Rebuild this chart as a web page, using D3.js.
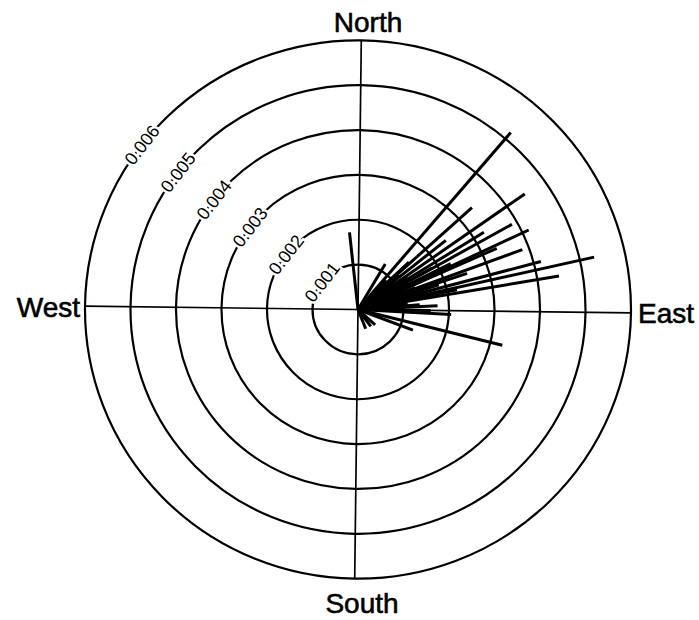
<!DOCTYPE html>
<html><head><meta charset="utf-8">
<script src="https://cdn.jsdelivr.net/npm/d3@7"></script>
<style>body{margin:0;background:#fff}</style>
</head><body>
<svg id="chart" width="699" height="620"></svg>
<script>
// ring values and labels
const ringValues = [0.001, 0.002, 0.003, 0.004, 0.005, 0.006];
const ringLabels = ["0.001", "0.002", "0.003", "0.004", "0.005", "0.006"];
const directionLabels = ["North", "East", "South", "West"];
// rays: bearing (deg, clockwise from North) and magnitude
const rayBearings = [39.7, 54.2, 47.1, 57.4, 60.0, 64.0, 65.2, 69.0, 74.4, 76.6, 79.7, 29.8, 353.1, 103.4, 110.1, 92.4, 84.7, 157.8, 142.5, 131.7, 50.7, 62.6, 70.7, 59.7, 72.1, 77.9, 64.9, 46.0, 48.8, 78.9, 76.5, 90.1, 55.0, 68.0, 82.0, 86.5, 43.0, 52.5];
const rayValues   = [0.00518, 0.00448, 0.00338, 0.00326, 0.00388, 0.00415, 0.00334, 0.00385, 0.00416, 0.00532, 0.00448, 0.00118, 0.00173, 0.00327, 0.00129, 0.00205, 0.00136, 0.00046, 0.00047, 0.00051, 0.00247, 0.00228, 0.00253, 0.00187, 0.00186, 0.00222, 0.00159, 0.00154, 0.00119, 0.00159, 0.00099, 0.00160, 0.00130, 0.00135, 0.00110, 0.00175, 0.00090, 0.00095];
const labelBearing = 307;

const cx = 358, cy = 309.5, R = 273, ySquash = 0.986, tilt = 0.7;
const rScale = d3.scaleLinear().domain([0, 0.006]).range([0, R]);
const ang = d3.scaleLinear().domain([0, 360]).range([0, 2 * Math.PI]);
const font = "'Liberation Sans', Arial, sans-serif";

const svg = d3.select("#chart");
svg.append("rect").attr("width", 699).attr("height", 620).attr("fill", "#fff");
const g = svg.append("g").attr("transform", `translate(${cx},${cy}) rotate(${tilt}) scale(1,${ySquash})`);

// rings
g.selectAll("circle.ring").data(ringValues).join("circle")
  .attr("class", "ring").attr("r", d => rScale(d))
  .attr("fill", "none").attr("stroke", "#000").attr("stroke-width", 2.2);

// axes
const outer = rScale(0.006);
g.append("line").attr("x1", -outer).attr("x2", outer).attr("y1", 0).attr("y2", 0)
  .attr("stroke", "#000").attr("stroke-width", 1.7);
g.append("line").attr("x1", 0).attr("x2", 0).attr("y1", -outer).attr("y2", outer)
  .attr("stroke", "#000").attr("stroke-width", 1.7);

// rays
const rays = rayBearings.map((b, i) => ({b, v: rayValues[i]}));
g.selectAll("line.ray").data(rays).join("line")
  .attr("class", "ray")
  .attr("x1", 0).attr("y1", 0)
  .attr("x2", d => rScale(d.v) * Math.sin(ang(d.b)))
  .attr("y2", d => -rScale(d.v) * Math.cos(ang(d.b)))
  .attr("stroke", "#000").attr("stroke-width", 3);

// ring labels
g.selectAll("text.rl").data(ringValues).join("text")
  .attr("class", "rl")
  .attr("transform", (d) => {
    const x = rScale(d) * Math.sin(ang(labelBearing));
    const y = -rScale(d) * Math.cos(ang(labelBearing));
    return `translate(${x},${y}) rotate(${labelBearing - 360})`;
  })
  .attr("text-anchor", "middle").attr("dy", "0.35em")
  .attr("font-family", font).attr("font-size", 18)
  .attr("stroke", "#fff").attr("stroke-width", 5).attr("paint-order", "stroke")
  .attr("fill", "#000")
  .text((d, i) => ringLabels[i]);

// cardinal labels
const ry = R * ySquash;
const cardPos = [
  {x: cx + 10, y: cy - ry - 8, anchor: "middle"},
  {x: cx + R + 7, y: cy + 13.5, anchor: "start"},
  {x: cx + 4, y: cy + ry + 34, anchor: "middle"},
  {x: cx - R - 5, y: cy + 7.5, anchor: "end"}
];
svg.selectAll("text.card").data(directionLabels).join("text")
  .attr("class", "card")
  .attr("x", (d, i) => cardPos[i].x).attr("y", (d, i) => cardPos[i].y)
  .attr("text-anchor", (d, i) => cardPos[i].anchor)
  .attr("font-family", font).attr("font-size", 28).attr("fill", "#000")
  .attr("stroke", "#000").attr("stroke-width", 0.6)
  .text(d => d);
</script>
</body></html>
